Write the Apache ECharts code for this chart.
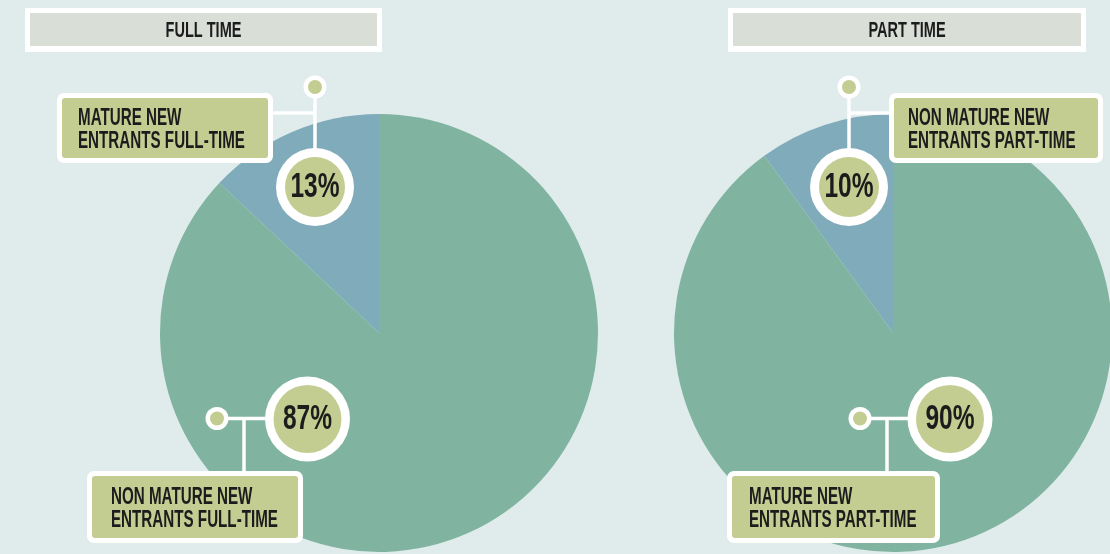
<!DOCTYPE html>
<html>
<head>
<meta charset="utf-8">
<title>New entrants: full time vs part time</title>
<script src="https://cdn.jsdelivr.net/npm/echarts@6/dist/echarts.min.js"></script>
<style>
  html, body { margin: 0; padding: 0; background: #e0ebec; }
  #chart { width: 1110px; height: 554px; }
</style>
</head>
<body>
<div id="chart"></div>
<script>
// Panel headings
const panelTitles = ['FULL TIME', 'PART TIME'];

// Full-time split (percent)
const fullTimeLabels = ['MATURE NEW\nENTRANTS FULL-TIME', 'NON MATURE NEW\nENTRANTS FULL-TIME'];
const fullTimeValues = [13, 87];

// Part-time split (percent)
const partTimeLabels = ['NON MATURE NEW\nENTRANTS PART-TIME', 'MATURE NEW\nENTRANTS PART-TIME'];
const partTimeValues = [10, 90];

// Styling
const BG = '#e0ebec';
const SLICE_COLORS = ['#80abbb', '#80b4a0'];
const TAG_GREEN = '#c3cd92';
const TITLE_GREY = '#d9ded7';
const INK = '#1c1c1c';
const FONT = '"Liberation Sans", Arial, sans-serif';
const SQUEEZE = 0.66; // horizontal condensing for the headline face

const chart = echarts.init(document.getElementById('chart'), null, { renderer: 'canvas' });

function pieSeries(values, center) {
  return {
    type: 'pie',
    center: center,
    radius: 219,
    startAngle: 90,
    clockwise: false,
    silent: true,
    animation: false,
    label: { show: false },
    labelLine: { show: false },
    itemStyle: { borderWidth: 0 },
    data: values.map((v, i) => ({ value: v, itemStyle: { color: SLICE_COLORS[i] } }))
  };
}

function squeezedText(str, x, y, size, align, lineHeight, z) {
  return {
    type: 'text', x: x, y: y, z: z || 30, scaleX: SQUEEZE, silent: true,
    style: {
      text: str, x: 0, y: 0,
      font: 'bold ' + size + 'px ' + FONT,
      fill: INK,
      align: align, textAlign: align,
      verticalAlign: 'middle', textVerticalAlign: 'middle',
      lineHeight: lineHeight || size
    }
  };
}

function titleBox(str, x, w) {
  return [
    { type: 'rect', z: 20, silent: true, shape: { x: x, y: 8, width: w, height: 44 }, style: { fill: '#ffffff' } },
    { type: 'rect', z: 21, silent: true, shape: { x: x + 5, y: 13, width: w - 10, height: 33 }, style: { fill: TITLE_GREY } },
    squeezedText(str, x + w / 2, 30.5, 22, 'center')
  ];
}

function tagBox(str, x, y, w, h, textX) {
  return [
    { type: 'rect', z: 20, silent: true, shape: { x: x, y: y, width: w, height: h, r: 7 }, style: { fill: '#ffffff' } },
    { type: 'rect', z: 21, silent: true, shape: { x: x + 5, y: y + 5, width: w - 10, height: h - 10, r: 3 }, style: { fill: TAG_GREEN } },
    squeezedText(str, textX, y + h / 2 + 2.5, 23, 'left', 23)
  ];
}

function line(x1, y1, x2, y2) {
  return { type: 'line', z: 15, silent: true, shape: { x1: x1, y1: y1, x2: x2, y2: y2 }, style: { stroke: '#ffffff', lineWidth: 3.5 } };
}

function dot(cx, cy) {
  return [
    { type: 'circle', z: 20, silent: true, shape: { cx: cx, cy: cy, r: 11.5 }, style: { fill: '#ffffff' } },
    { type: 'circle', z: 21, silent: true, shape: { cx: cx, cy: cy, r: 7 }, style: { fill: TAG_GREEN } }
  ];
}

function badge(value, cx, cy, rOut, rIn) {
  return [
    { type: 'circle', z: 20, silent: true, shape: { cx: cx, cy: cy, r: rOut }, style: { fill: '#ffffff' } },
    { type: 'circle', z: 21, silent: true, shape: { cx: cx, cy: cy, r: rIn }, style: { fill: TAG_GREEN } },
    {
      type: 'text', x: cx, y: cy + 0.5, z: 30, scaleX: 0.7, silent: true,
      style: {
        text: value + '%', x: 0, y: 0,
        font: 'bold 35px ' + FONT, fill: INK,
        align: 'center', textAlign: 'center',
        verticalAlign: 'middle', textVerticalAlign: 'middle'
      }
    }
  ];
}

const graphics = [].concat(
  titleBox(panelTitles[0], 25, 357),
  titleBox(panelTitles[1], 728, 358),

  // Full time: smaller share
  line(270, 113, 315, 113),
  line(315, 87, 315, 187),
  dot(315, 87),
  badge(fullTimeValues[0], 315, 187, 39, 30),
  tagBox(fullTimeLabels[0], 57, 93, 216, 70, 78),

  // Full time: larger share
  line(217, 418.5, 307, 418.5),
  line(244, 418.5, 244, 476),
  dot(217, 418.5),
  badge(fullTimeValues[1], 307.5, 419, 42.5, 34),
  tagBox(fullTimeLabels[1], 87, 471, 216, 72, 111),

  // Part time: smaller share
  line(849, 113, 893, 113),
  line(849, 87, 849, 187),
  dot(849, 87),
  badge(partTimeValues[0], 849, 187, 39, 30),
  tagBox(partTimeLabels[0], 889, 93, 214, 70, 908),

  // Part time: larger share
  line(860, 418.5, 950, 418.5),
  line(887, 418.5, 887, 476),
  dot(860, 418.5),
  badge(partTimeValues[1], 950, 419, 42.5, 34),
  tagBox(partTimeLabels[1], 727, 471, 213, 72, 749)
);

chart.setOption({
  backgroundColor: BG,
  animation: false,
  series: [
    pieSeries(fullTimeValues, [379, 333]),
    pieSeries(partTimeValues, [893, 333])
  ],
  graphic: { elements: graphics }
});
</script>
</body>
</html>
